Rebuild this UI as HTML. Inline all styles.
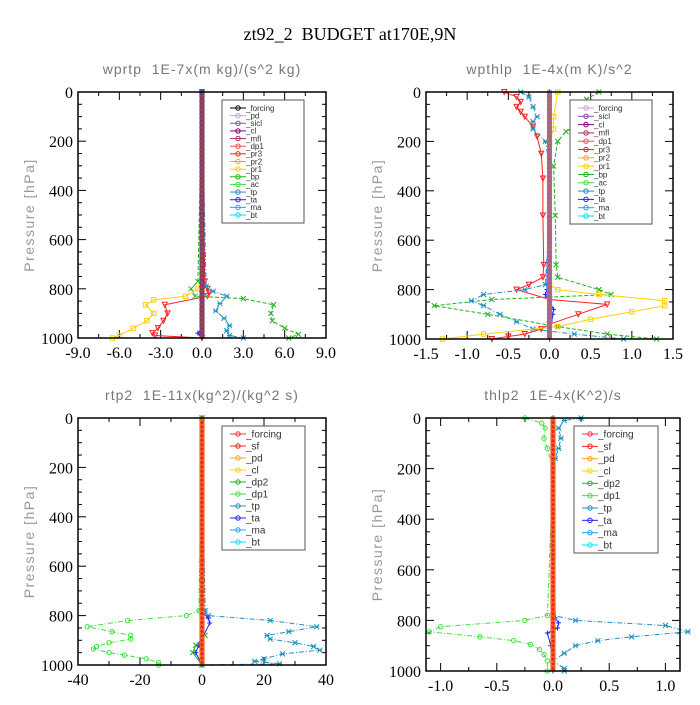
<!DOCTYPE html>
<html><head><meta charset="utf-8">
<style>
body{margin:0;background:#fff;width:700px;height:700px;overflow:hidden}
svg text{font-family:"Liberation Sans",sans-serif;white-space:pre}
</style></head>
<body>
<svg id="chart" width="700" height="700" viewBox="0 0 700 700" xmlns="http://www.w3.org/2000/svg">
<rect width="700" height="700" fill="#fff"/>
<text x="350" y="40" text-anchor="middle" font-size="18" style="font-family:'Liberation Serif',serif">zt92_2  BUDGET at170E,9N</text>
</svg>
<script>
// ---------- data ----------
const pressureTicks = [0,200,400,600,800,1000];
const p1Ticks = ["-9.0","-6.0","-3.0","0.0","3.0","6.0","9.0"];
const p1TickVals = [-9,-6,-3,0,3,6,9];
const p2Ticks = ["-1.5","-1.0","-0.5","0.0","0.5","1.0","1.5"];
const p2TickVals = [-1.5,-1,-0.5,0,0.5,1,1.5];
const p3Ticks = ["-40","-20","0","20","40"];
const p3TickVals = [-40,-20,0,20,40];
const p4Ticks = ["-1.0","-0.5","0.0","0.5","1.0"];
const p4TickVals = [-1,-0.5,0,0.5,1];

const p1_pr1_p = [0,780,800,830,845,865,900,930,960,990,1000];
const p1_pr1_v = [0,0,-0.3,-1.2,-3.5,-4.1,-3.5,-4,-5,-6,-6.5];
const p1_pr3_p = [0,770,800,815,830,865,900,930,960,980,990,1000];
const p1_pr3_v = [0,0.2,0.4,0.5,0.4,-2.7,-2.5,-2.8,-3.2,-3.6,-3.4,0];
const p1_bp_p = [0,770,800,830,840,865,900,930,960,985,1000];
const p1_bp_v = [0,-0.3,-0.8,-0.5,3,5.2,5,5.1,6,7,6.3];
const p1_tp_p = [0,790,810,830,860,890,920,950,970,990,1000];
const p1_tp_v = [0,0.3,0.8,1.8,1.3,1,1.6,2,1.8,2,3];
const p1_ta_p = [0,960,980,1000];
const p1_ta_v = [0,0,-0.3,0];

const p2_pr3_p = [0,20,40,60,80,100,140,180,250,350,500,700,750,780,800,840,860,900,940,960,980,990,1000];
const p2_pr3_v = [-0.55,-0.4,-0.35,-0.4,-0.35,-0.3,-0.2,-0.15,-0.1,-0.08,-0.08,-0.07,-0.08,-0.25,-0.4,0,0.7,0.35,0,-0.1,-0.3,-0.5,-0.7];
const p2_tp_p = [0,20,60,100,120,150,200,300,500,780,800,820,845,865,900,930,960,980,1000];
const p2_tp_v = [-0.35,-0.25,-0.2,-0.15,-0.2,-0.2,-0.05,0,0,-0.05,-0.3,-0.8,-0.95,-0.8,-0.6,-0.4,-0.2,0.3,0.9];
const p2_bp_p = [0,30,60,100,130,160,200,300,500,700,750,800,820,840,865,900,950,980,1000];
const p2_bp_v = [0.6,0.45,0.5,0.35,0.4,0.2,0.1,0.05,0.07,0.08,0.1,0.6,0.75,-0.7,-1.4,-0.75,0.1,0.7,1.3];
const p2_pr1_p = [0,100,150,200,780,800,820,845,865,890,920,950,980,1000];
const p2_pr1_v = [0.1,0.05,0.05,0,0,0.1,0.6,1.4,1.4,1,0.5,0.1,-0.8,-1.3];
const p2_ta_p = [0,800,820,880,900,1000];
const p2_ta_v = [0,-0.03,-0.05,0.05,0.04,0];

const p3_dp1_p = [0,780,800,820,845,865,880,895,910,925,935,950,960,975,990,1000];
const p3_dp1_v = [0,-1,-5,-24,-37,-29,-23,-23,-30,-34,-35,-30,-25,-18,-14,-14];
const p3_tp_p = [0,780,800,820,845,865,880,895,910,925,940,955,975,985,995,1000];
const p3_tp_v = [0,1,2,22,37,28,21,22,30,36,38,26,20,17,25,0];
const p3_dp2_p = [0,860,880,920,950,1000];
const p3_dp2_v = [0,0,1,-2,-3,0];
const p3_ta_p = [0,790,810,830,920,950,1000];
const p3_ta_v = [0,0.5,2,2.5,-1,-2,0];

const p4_dp1_p = [0,20,40,80,120,200,780,800,825,845,865,880,895,915,935,960,1000];
const p4_dp1_v = [-0.25,-0.1,-0.07,-0.08,-0.05,0,-0.05,-0.25,-1,-1.1,-0.65,-0.35,-0.2,-0.12,-0.08,-0.05,-0.05];
const p4_tp_p = [0,10,40,80,120,160,200,780,800,820,845,865,880,900,930,960,990,1000];
const p4_tp_v = [0.25,0.1,0.05,0.07,0.05,0.02,0,0,0.2,1,1.2,0.7,0.4,0.2,0.1,0,0.1,0.1];
const p4_ta_p = [0,790,810,830,850,900,1000];
const p4_ta_v = [0,0.02,0.05,0.04,-0.05,-0.02,0];

const legend1 = ["_forcing","_pd","_sicl","_cl","_mfl","_dp1","_pr3","_pr2","_pr1","_bp","_ac","_tp","_ta","_ma","_bt"];
const legend1Colors = ["#000","#c9a0dc","#8a50b0","#800080","#b03060","#f05050","#ff2020","#ffa020","#ffd000","#20b020","#40e040","#2090c0","#2020ff","#20a0ff","#00e0ff"];
const legend2 = ["_forcing","_sicl","_cl","_mfl","_dp1","_pr3","_pr2","_pr1","_bp","_ac","_tp","_ta","_ma","_bt"];
const legend2Colors = ["#c9a0dc","#8a50b0","#800080","#b03060","#f05050","#ff2020","#ffa020","#ffd000","#20b020","#40e040","#2090c0","#2020ff","#20a0ff","#00e0ff"];
const legend3 = ["_forcing","_sf","_pd","_cl","_dp2","_dp1","_tp","_ta","_ma","_bt"];
const legend3Colors = ["#ff3050","#ff2020","#ffa020","#ffd000","#20b020","#40e040","#2090c0","#2020ff","#20a0ff","#00e0ff"];

// ---------- drawing ----------
const NS="http://www.w3.org/2000/svg";
const svg=document.getElementById('chart');
function el(tag,attrs,parent){const e=document.createElementNS(NS,tag);for(const k in attrs)e.setAttribute(k,attrs[k]);(parent||svg).appendChild(e);return e;}
function marker(g,type,x,y,c){
  const s=2.5;
  if(type==='o') el('circle',{cx:x,cy:y,r:2.2,fill:'none',stroke:c,'stroke-width':1},g);
  else if(type==='s') el('rect',{x:x-2.2,y:y-2.2,width:4.4,height:4.4,fill:'none',stroke:c,'stroke-width':1},g);
  else if(type==='v') el('path',{d:`M${x-s},${y-s}L${x+s},${y-s}L${x},${y+s}Z`,fill:'none',stroke:c,'stroke-width':1},g);
  else if(type==='x') el('path',{d:`M${x-s},${y-s}L${x+s},${y+s}M${x-s},${y+s}L${x+s},${y-s}`,stroke:c,'stroke-width':1},g);
  else if(type==='+') el('path',{d:`M${x-s},${y}L${x+s},${y}M${x},${y-s}L${x},${y+s}`,stroke:c,'stroke-width':1},g);
  else if(type==='*') el('path',{d:`M${x-s},${y-s}L${x+s},${y+s}M${x-s},${y+s}L${x+s},${y-s}M${x-s},${y}L${x+s},${y}`,stroke:c,'stroke-width':1},g);
}
function panel(cfg){
  const g=el('g',{});
  
  
  const {x0,x1,y0,y1,xmin,xmax}=cfg;
  const X=v=>x0+(v-xmin)/(xmax-xmin)*(x1-x0);
  const Y=p=>y0+p/1000*(y1-y0);
  const t=el('text',{x:(x0+x1)/2,y:y0-18,'text-anchor':'middle','font-size':14,fill:'#777','letter-spacing':'1'},g);
  t.textContent=cfg.title;
  
  
  const yl=el('text',{x:0,y:0,'text-anchor':'middle','font-size':14,fill:'#999','letter-spacing':'1.5',transform:`translate(${x0-44},${(y0+y1)/2}) rotate(-90)`},g);
  yl.textContent='Pressure [hPa]';
  
  
  for(let p=0;p<=1000;p+=50){
    const L=p%200===0?8:4;
    el('line',{x1:x0,x2:x0+L,y1:Y(p),y2:Y(p),stroke:'#000'},g);
    el('line',{x1:x1,x2:x1-L,y1:Y(p),y2:Y(p),stroke:'#000'},g);
  }
  pressureTicks.forEach(p=>{
    const tx=el('text',{x:x0-5,y:Y(p)+6,'text-anchor':'end','font-size':16,style:"font-family:'Liberation Serif',serif"},g);
    tx.textContent=p;
    
    
  });
  cfg.tickVals.forEach((v,i)=>{
    el('line',{x1:X(v),x2:X(v),y1:y1,y2:y1-8,stroke:'#000'},g);
    el('line',{x1:X(v),x2:X(v),y1:y0,y2:y0+8,stroke:'#000'},g);
    if(i<cfg.tickVals.length-1){const m=(v+cfg.tickVals[i+1])/2;
      el('line',{x1:X(m),x2:X(m),y1:y1,y2:y1-4,stroke:'#000'},g);
      el('line',{x1:X(m),x2:X(m),y1:y0,y2:y0+4,stroke:'#000'},g);}
    const tx=el('text',{x:X(v),y:y1+20,'text-anchor':'middle','font-size':16,style:"font-family:'Liberation Serif',serif"},g);
    tx.textContent=cfg.ticks[i];
    
    
  });
  cfg.series.forEach(s=>{
    const sg=el('g',{},g);
    
    
    const d=s.p.map((p,i)=>(i?'L':'M')+X(s.v[i]).toFixed(1)+','+Y(p).toFixed(1)).join('');
    el('path',{d,fill:'none',stroke:s.c,'stroke-width':1,'stroke-dasharray':s.dash||'none'},sg);
    s.p.forEach((p,i)=>marker(sg,s.m,X(s.v[i]),Y(p),s.c));
  });
  const cg=el('g',{},g);
  
  
  el('line',{x1:X(0),x2:X(0),y1:y0,y2:y1,stroke:cfg.zc,'stroke-width':5},cg);
  for(let p=0;p<=1000;p+=18) marker(cg,'o',X(0),Y(p),cfg.zm);
  el('rect',{x:x0,y:y0,width:x1-x0,height:y1-y0,fill:'none',stroke:'#000','stroke-width':1.5},g);
  const lg=el('g',{},g);
  
  
  const L=cfg.legend;
  el('rect',{x:L.x,y:L.y,width:L.w,height:L.h,fill:'#fff',stroke:'#555'},lg);
  const n=L.labels.length, sp=(L.h-16)/(n-1);
  L.labels.forEach((lab,i)=>{
    const yy=L.y+8+i*sp;
    const e=el('g',{},lg);
    
    
    el('line',{x1:L.x+8,x2:L.x+24,y1:yy,y2:yy,stroke:L.colors[i]},e);
    marker(e,'o',L.x+16,yy,L.colors[i]);
    const tx=el('text',{x:L.x+24,y:yy+L.fs*0.35,'font-size':L.fs,fill:'#333'},e);
    tx.textContent=lab;
  });
}
panel({name:'panel-wprtp',title:'wprtp  1E-7x(m kg)/(s^2 kg)',x0:78,x1:326,y0:92,y1:338,xmin:-9,xmax:9,ticks:p1Ticks,tickVals:p1TickVals,zc:'#b04040',zm:'#604080',
 series:[{label:'-pr1',p:p1_pr1_p,v:p1_pr1_v,c:'#ffd000',m:'s'},{label:'-pr3',p:p1_pr3_p,v:p1_pr3_v,c:'#ff2020',m:'v'},
 {label:'-bp',p:p1_bp_p,v:p1_bp_v,c:'#20b020',m:'x',dash:'4,2'},{label:'-tp',p:p1_tp_p,v:p1_tp_v,c:'#2090c0',m:'*',dash:'5,2,1,2'},{label:'-ta',p:p1_ta_p,v:p1_ta_v,c:'#2020ff',m:'+'}],
 legend:{x:222,y:100,w:82,h:123,labels:legend1,colors:legend1Colors,fs:8}});
panel({name:'panel-wpthlp',title:'wpthlp  1E-4x(m K)/s^2',x0:426,x1:673,y0:92,y1:339,xmin:-1.5,xmax:1.5,ticks:p2Ticks,tickVals:p2TickVals,zc:'#b06060',zm:'#a070c0',
 series:[{label:'-pr3',p:p2_pr3_p,v:p2_pr3_v,c:'#ff2020',m:'v'},{label:'-tp',p:p2_tp_p,v:p2_tp_v,c:'#2090c0',m:'*',dash:'5,2,1,2'},
 {label:'-bp',p:p2_bp_p,v:p2_bp_v,c:'#20b020',m:'x',dash:'4,2'},{label:'-pr1',p:p2_pr1_p,v:p2_pr1_v,c:'#ffd000',m:'s'},{label:'-ta',p:p2_ta_p,v:p2_ta_v,c:'#2020ff',m:'+'}],
 legend:{x:570,y:100,w:82,h:124,labels:legend2,colors:legend2Colors,fs:8}});
panel({name:'panel-rtp2',title:'rtp2  1E-11x(kg^2)/(kg^2 s)',x0:78,x1:326,y0:418,y1:665,xmin:-40,xmax:40,ticks:p3Ticks,tickVals:p3TickVals,zc:'#ff2020',zm:'#e08020',
 series:[{label:'-dp1',p:p3_dp1_p,v:p3_dp1_v,c:'#40e040',m:'o',dash:'5,2,1,2'},{label:'-tp',p:p3_tp_p,v:p3_tp_v,c:'#2090c0',m:'*',dash:'5,2,1,2'},
 {label:'-dp2',p:p3_dp2_p,v:p3_dp2_v,c:'#20b020',m:'x'},{label:'-ta',p:p3_ta_p,v:p3_ta_v,c:'#2020ff',m:'+'}],
 legend:{x:222,y:426,w:83,h:124,labels:legend3,colors:legend3Colors,fs:10}});
panel({name:'panel-thlp2',title:'thlp2  1E-4x(K^2)/s',x0:426,x1:680,y0:418,y1:671,xmin:-1.13,xmax:1.13,ticks:p4Ticks,tickVals:p4TickVals,zc:'#ff2020',zm:'#e08020',
 series:[{label:'-dp1',p:p4_dp1_p,v:p4_dp1_v,c:'#40e040',m:'o',dash:'5,2,1,2'},{label:'-tp',p:p4_tp_p,v:p4_tp_v,c:'#2090c0',m:'*',dash:'5,2,1,2'},
 {label:'-ta',p:p4_ta_p,v:p4_ta_v,c:'#2020ff',m:'+'}],
 legend:{x:574,y:426,w:84,h:127,labels:legend3,colors:legend3Colors,fs:10}});
</script>
</body></html>
